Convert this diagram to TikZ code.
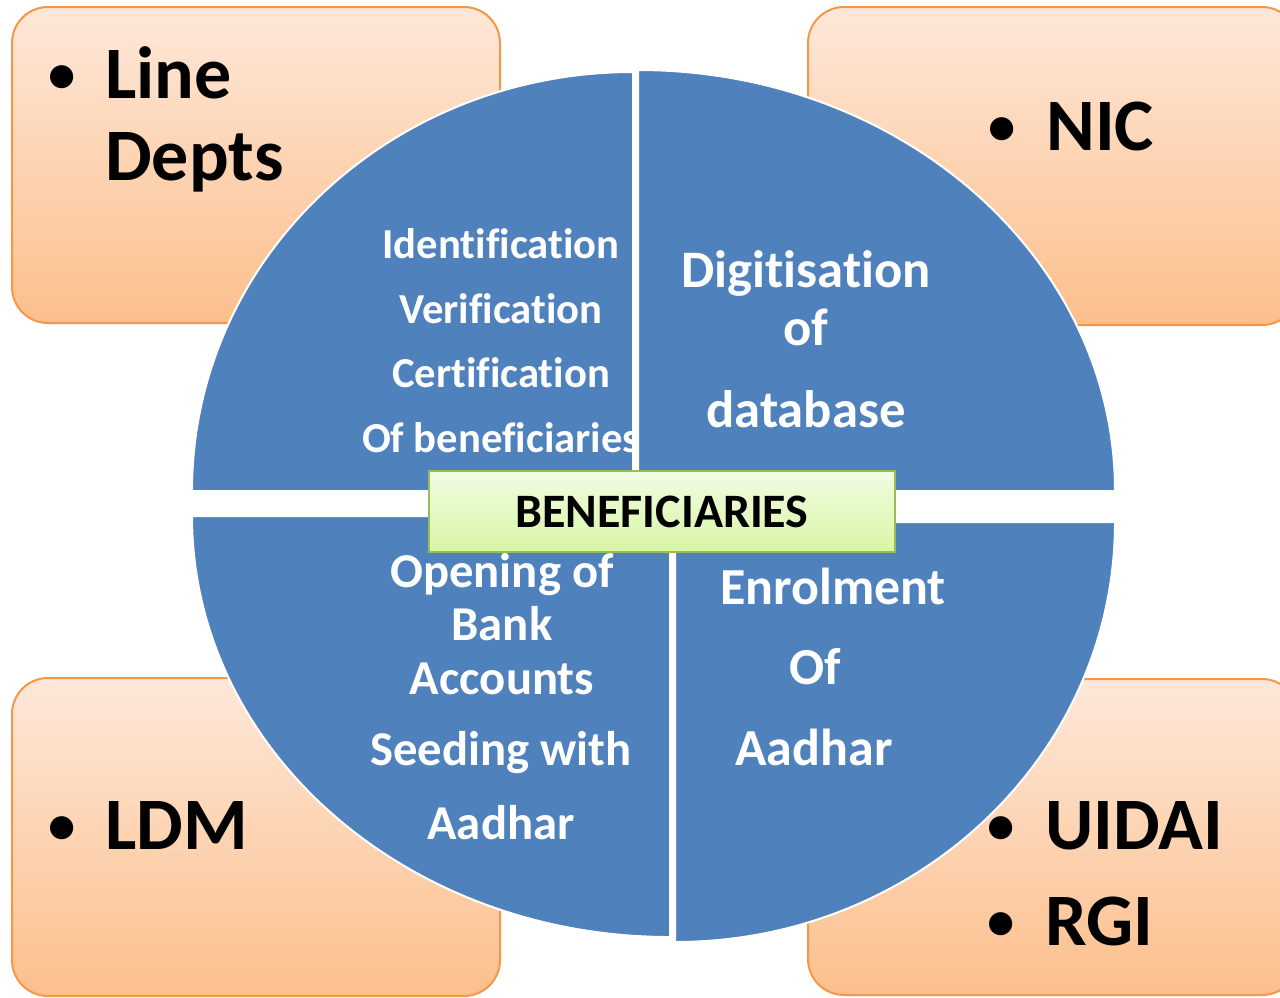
\documentclass[tikz,border=0pt]{standalone}
\usepackage{fontspec}
\setmainfont[Ligatures={NoCommon,NoContextual}]{Carlito}
\definecolor{qBlue}{HTML}{4F81BD}
\definecolor{orTop}{HTML}{FEE8D9}
\definecolor{orBot}{HTML}{FCBF8C}
\definecolor{orBd}{HTML}{F79646}
\definecolor{grTop}{HTML}{F1FCE1}
\definecolor{grBot}{HTML}{D8F6A6}
\definecolor{grBd}{HTML}{9BBB59}
\begin{document}
\begin{tikzpicture}[x=0.75pt,y=-0.75pt,
  orbox/.style={draw=orBd, line width=1.5pt, rounded corners=27pt, top color=orTop, bottom color=orBot},
  quad/.style={fill=qBlue, draw=white, line width=1.5pt},
  bigtxt/.style={font=\fontsize{55.5}{60}\selectfont\bfseries, text=black, inner sep=0pt},
  bul/.style={font=\fontsize{41}{46}\selectfont\bfseries, text=black, inner sep=0pt, anchor=base},
  lbl/.style={bigtxt, anchor=base west},
  qa/.style={text=white, font=\fontsize{32}{38}\selectfont\bfseries, inner sep=0pt, anchor=base},
  qb/.style={text=white, font=\fontsize{39.5}{44}\selectfont\bfseries, inner sep=0pt, anchor=base},
  qc/.style={text=white, font=\fontsize{36.5}{42}\selectfont\bfseries, inner sep=0pt, anchor=base},
  qd/.style={text=white, font=\fontsize{39}{44}\selectfont\bfseries, inner sep=0pt, anchor=base},
  benef/.style={draw=grBd, line width=1.5pt, top color=grTop, bottom color=grBot,
    minimum width=349.5pt, minimum height=60.75pt, inner sep=0pt,
    font=\fontsize{36}{40}\selectfont\bfseries, text=black}
]
\useasboundingbox (0,0) rectangle (1280,997);
\fill[white] (0,0) rectangle (1280,997);

% orange corner boxes
\path[orbox] (12,7) rectangle (500,323);
\path[orbox] (808,7) rectangle (1298,325);
\path[orbox] (12,678) rectangle (500,996);
\path[orbox] (808,679) rectangle (1298,995);

% top-left quadrant
\path[quad] (633,491) -- (633,72) arc[start angle=90, end angle=180, x radius=330.75pt, y radius=314.25pt] -- cycle;
\node[qa] (t1) at (501,258) {Identification};
\node[qa] (t2) at (501,323) {Verification};
\node[qa] (t3) at (501,387) {Certification};
\node[qa] (t4) at (501,452) {Of beneficiaries};

% top-right quadrant
\path[quad] (638,491) -- (638,70) arc[start angle=90, end angle=0, x radius=357.75pt, y radius=315.75pt] -- cycle;
\node[qb] (d1) at (806,287) {Digitisation};
\node[qb] (d2) at (806,345) {of};
\node[qb] (d3) at (806,427) {database};

% bottom-left quadrant
\path[quad] (670,516) -- (670,937) arc[start angle=270, end angle=180, x radius=358.5pt, y radius=315.75pt] -- cycle;
\node[qc] (b1) at (502,587) {Opening of};
\node[qc] (b2) at (502,640) {Bank};
\node[qc] (b3) at (502,694) {Accounts};
\node[qc] (b4) at (501,765) {Seeding with};
\node[qc] (b5) at (501,839) {Aadhar};

% bottom-right quadrant
\path[quad] (675,522) -- (675,942) arc[start angle=270, end angle=360, x radius=330pt, y radius=315pt] -- cycle;
\node[qd] (e1) at (833,604) {Enrolment};
\node[qd] (e2) at (815,684) {Of};
\node[qd] (e3) at (814,765) {Aadhar};

% centre box
\node[benef] (ben) at (662,511.5) {BENEFICIARIES};

% corner labels
\node[bul] (bl1) at (62,92) {•};
\node[lbl] (ld1) at (105,98) {Line};
\node[lbl] (ld2) at (105,180) {Depts};
\node[bul] (bl2) at (1002,144) {•};
\node[lbl] (nic) at (1046,150) {NIC};
\node[bul] (bl3) at (62,843) {•};
\node[lbl] (ldm) at (105,849) {LDM};
\node[bul] (bl4) at (1001,843) {•};
\node[lbl] (uid) at (1045,849) {UIDAI};
\node[bul] (bl5) at (1001,939) {•};
\node[lbl] (rgi) at (1045,945) {RGI};
\end{tikzpicture}
\end{document}
